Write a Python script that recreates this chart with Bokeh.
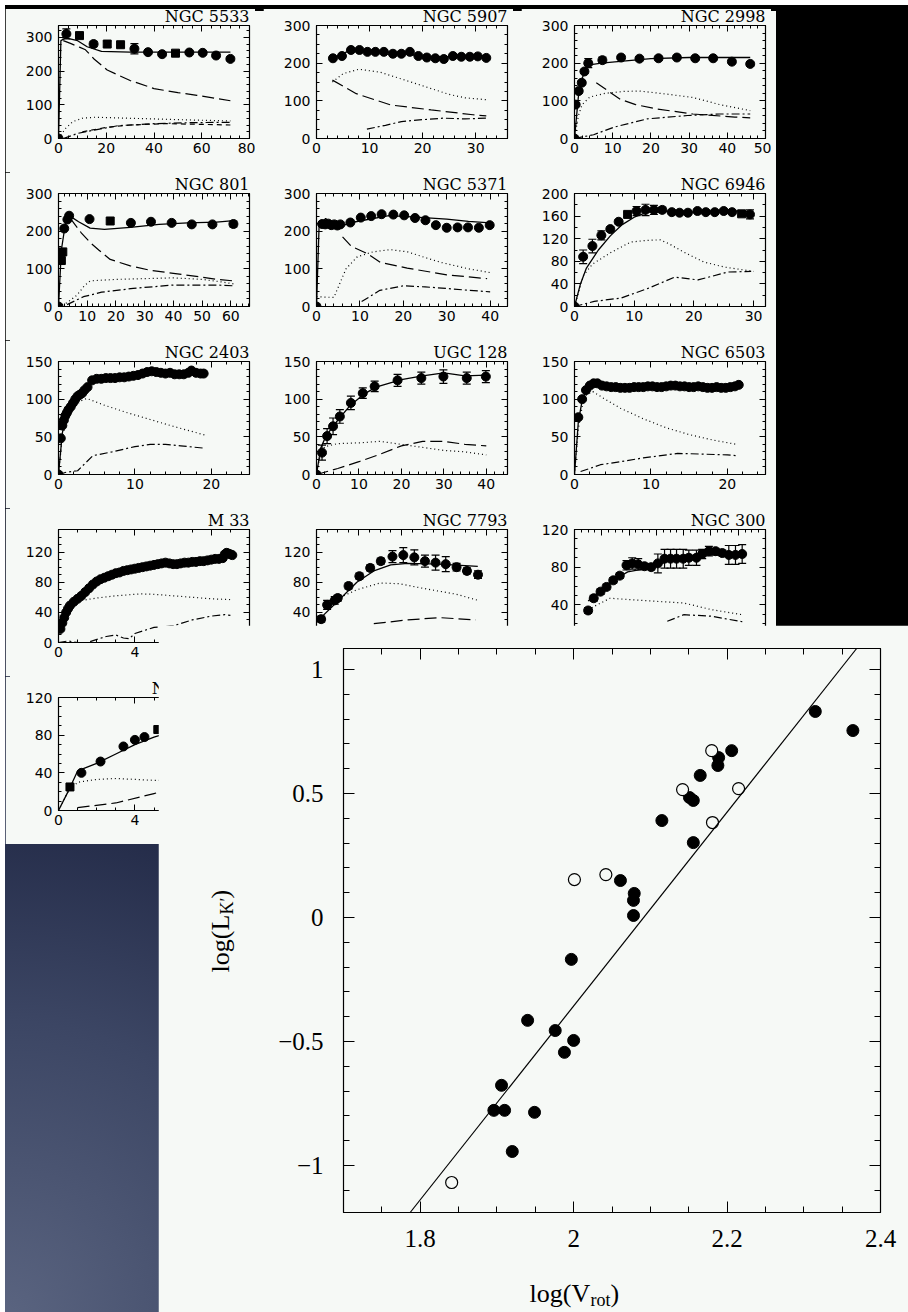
import math
from bokeh.plotting import figure
from bokeh.models import (Div, LinearAxis, SingleIntervalTicker, FixedTicker,
                          Range1d, Label, Slope)
from bokeh.embed import file_html
from bokeh.resources import INLINE

# ------------------------------------------------------------------ data
# Rotation curves: radius (kpc) and velocity (km/s); model curves as (R, V) pairs
N5533_R = [0, 3.3, 8.8, 14.7, 20.4, 26.0, 31.8, 37.5, 43.4, 49.0, 54.8, 60.4, 66.0, 72.0]
N5533_V = [0, 310, 305, 280, 280, 278, 266, 256, 250, 253, 255, 254, 246, 236]
N5533_E = [0, 15, 8, 8, 8, 8, 15, 5, 5, 5, 5, 5, 5, 5]
N5533_SQ = [2, 4, 5, 9]
N5533_TOTAL = [(0, 0), (1, 290), (3, 298), (8, 290), (12, 272), (18, 258), (30, 256), (50, 256), (72, 256)]
N5533_LDASH = [(2, 290), (5, 282), (9, 270), (11.3, 263), (15, 235), (20.4, 203), (30, 172), (40, 148), (50, 136), (58, 128), (72, 112)]
N5533_DOT = [(0, 0), (3, 30), (6, 50), (10, 60), (15, 63), (25, 61), (40, 58), (55, 55), (72, 52)]
N5533_DDOT = [(2, 0), (8, 15), (15, 25), (25, 38), (40, 44), (55, 47), (72, 48)]
N5533_DASH = [(10, 20), (20, 33), (30, 40), (45, 44), (60, 42), (72, 40)]

N5907_R = [3.1, 4.8, 6.5, 8.1, 9.6, 11.1, 12.7, 14.4, 16.0, 17.6, 19.2, 20.8, 22.4, 24.0, 25.7, 27.3, 28.9, 30.4, 32.0]
N5907_V = [213, 219, 235, 235, 230, 230, 230, 225, 225, 230, 219, 215, 213, 211, 219, 217, 217, 218, 214]
N5907_TOTAL = [(3, 212), (6, 232), (10, 232), (15, 228), (20, 218), (25, 217), (32, 216)]
N5907_DOT = [(3, 150), (5, 172), (8, 184), (12, 176), (16, 158), (20, 140), (25, 117), (28, 108), (32, 103)]
N5907_LDASH = [(3, 155), (7.5, 119), (14, 89), (21.6, 76), (29.5, 63), (32, 60)]
N5907_DDOT = [(9.5, 25), (13, 35), (16, 45), (20, 50), (24, 54), (28, 52), (32, 54)]

N2998_R = [0, 0.3, 1.1, 1.9, 2.6, 3.6, 7.3, 12.2, 17.0, 22.0, 26.8, 31.6, 36.3, 41.2, 46.0]
N2998_V = [0, 90, 126, 148, 178, 200, 208, 215, 212, 213, 215, 213, 213, 204, 198]
N2998_E = [0, 5, 5, 5, 5, 12, 8, 5, 5, 5, 5, 5, 5, 5, 5]
N2998_TOTAL = [(0, 0), (1, 110), (2, 160), (3.5, 195), (7, 200), (12, 205), (20, 212), (30, 215), (46, 215)]
N2998_DOT = [(0, 0), (1, 60), (2, 90), (4, 110), (8, 120), (13, 125), (17, 126), (24, 118), (31, 109), (38, 90), (46, 74)]
N2998_LDASH = [(5.7, 148), (9, 125), (12, 104), (16, 90), (21.8, 78), (31, 65), (42, 57), (46, 55)]
N2998_DDOT = [(0, 0), (5, 10), (10.3, 30), (19, 52), (29.6, 61), (38, 65), (46, 65)]

N801_R = [0, 1.0, 1.5, 2.0, 3.1, 3.7, 10.8, 18.0, 25.2, 32.2, 39.4, 46.4, 53.6, 60.9]
N801_V = [0, 122, 145, 207, 231, 241, 232, 227, 222, 225, 222, 218, 218, 219]
N801_E = [0, 0, 0, 0, 0, 0, 0, 0, 0, 0, 0, 0, 0, 8]
N801_SQ = [1, 2, 7]
N801_TOTAL = [(0, 0), (1, 150), (2.5, 225), (4, 240), (7, 225), (11, 208), (16, 205), (25, 210), (35, 218), (45, 222), (55, 224), (61, 228)]
N801_LDASH = [(4, 235), (6, 215), (8, 195), (11, 170), (14, 150), (18, 125), (25, 108), (32, 96), (40, 88), (48, 80), (55, 72), (61, 68)]
N801_DOT = [(0, 0), (3, 10), (6.4, 30), (9, 55), (11, 68), (20, 72), (30, 74), (40, 76), (50, 72), (57, 65), (61, 60)]
N801_DASH = [(3, 5), (8.7, 26), (15, 38), (26, 48), (40, 57), (55, 57), (61, 55)]

N5371_R = [0, 1.3, 2.0, 2.7, 3.4, 4.1, 4.8, 5.5, 7.8, 10.2, 12.6, 15.0, 17.7, 20.2, 22.7, 25.1, 27.5, 30.0, 32.5, 34.9, 37.4, 39.9]
N5371_V = [0, 219, 218, 220, 216, 218, 215, 218, 223, 236, 240, 245, 244, 242, 235, 229, 216, 209, 210, 210, 209, 216]
N5371_TOTAL = [(0, 0), (0.6, 215), (1.4, 223), (2.1, 234), (4.4, 210), (9, 225), (16.7, 241), (22, 238), (30, 232), (35, 226), (40, 222)]
N5371_DOT = [(0, 26), (4, 24), (6.8, 100), (9.4, 132), (13, 145), (17, 151), (21, 145), (25, 130), (28.7, 117), (35, 100), (40, 90)]
N5371_LDASH = [(6, 185), (8, 160), (11.6, 141), (14.7, 117), (20.9, 102), (30, 84), (39.3, 74)]
N5371_DDOT = [(10.4, 13), (14.6, 43), (20, 55), (25, 52), (30, 48), (35, 43), (40, 39)]

N6946_R = [0, 1.45, 3.0, 4.5, 6.0, 7.4, 8.9, 10.4, 11.9, 13.3, 14.7, 16.3, 17.6, 19.0, 20.6, 22.0, 23.5, 25.0, 26.4, 28.0, 29.4]
N6946_V = [0, 88, 107, 126, 137, 150, 163, 169, 171, 171, 171, 167, 166, 166, 169, 167, 167, 169, 167, 164, 163]
N6946_E = [0, 12, 12, 8, 4, 4, 4, 8, 10, 8, 5, 3, 3, 3, 3, 3, 3, 3, 3, 3, 8]
N6946_SQ = [6, 19]
N6946_TOTAL = [(0, 0), (1, 40), (2, 68), (4, 100), (6, 125), (8, 145), (10, 158), (12, 166), (14, 170), (16, 168), (20, 167), (25, 170), (29.5, 168)]
N6946_DOT = [(0, 0), (1.5, 55), (3, 75), (6, 95), (9.4, 114), (12, 117), (14.4, 118), (16, 110), (18, 98), (21.6, 79), (25, 70), (28.8, 64), (30, 62)]
N6946_DDOT = [(0, 0), (3.3, 9), (7.8, 15), (12.3, 32), (16.8, 52), (20.7, 47), (25.7, 61), (29.6, 62)]

N2403_R = [0, 0.3, 0.5, 0.7, 0.9, 1.1, 1.3, 1.6, 1.9, 2.2, 2.5, 2.8, 3.1, 3.4, 3.8, 4.4, 5.0, 5.6, 6.2, 6.8,
           7.4, 8.0, 8.6, 9.2, 9.8, 10.4, 11.0, 11.6, 12.2, 12.8, 13.4, 14.0, 14.6, 15.2, 15.8, 16.4, 17.0, 17.4, 18.0, 18.6, 19.0]
N2403_V = [0, 48, 65, 72, 78, 82, 86, 90, 95, 100, 104, 106, 108, 112, 116, 125, 127, 127, 128, 128,
           128, 129, 129, 130, 131, 132, 134, 136, 137, 136, 135, 134, 135, 133, 133, 133, 135, 138, 135, 134, 134]
N2403_TOTAL = [(0, 0), (0.5, 55), (1, 78), (2, 98), (3, 110), (4, 120), (5, 126), (8, 129), (12, 136), (16, 134), (19, 134)]
N2403_DOT = [(0, 0), (0.5, 50), (1, 70), (2, 90), (3, 98), (3.7, 101), (6, 92), (9, 82), (12, 73), (15, 64), (19.3, 52)]
N2403_DDOT = [(0, 0), (1, 3), (2.5, 5), (3.5, 15), (4.5, 25), (7, 30), (10, 37), (12, 40), (14, 40), (16, 38), (19, 35)]

U128_R = [0, 1.3, 2.5, 3.9, 5.5, 8.1, 10.9, 13.7, 19.1, 24.7, 29.9, 35.4, 39.9]
U128_V = [0, 29, 51, 64, 77, 95, 108, 117, 125, 128, 130, 128, 130]
U128_E = [0, 10, 10, 11, 9, 9, 7, 7, 8, 8, 9, 8, 8]
U128_TOTAL = [(0, 0), (1, 35), (2, 48), (3, 57), (5, 72), (8, 92), (11, 106), (14, 116), (20, 126), (25, 131), (30, 135), (35, 131), (40, 132)]
U128_DOT = [(0, 0), (1, 30), (2, 37), (5, 41), (10, 42), (15, 44), (20, 40), (25, 36), (30, 32), (35, 30), (40, 26)]
U128_LDASH = [(0, 0), (5, 8), (10, 17), (15, 27), (20, 38), (25, 44), (30, 44), (35, 40), (40, 38)]

N6503_R = [0.5, 1.0, 1.5, 2.0, 2.5, 3.0, 3.6, 4.2, 4.8, 5.4, 6.0, 6.6, 7.2, 7.8, 8.4, 9.0, 9.6, 10.2, 10.8, 11.4,
           12.0, 12.6, 13.2, 13.8, 14.4, 15.0, 15.6, 16.2, 16.8, 17.4, 18.0, 18.6, 19.2, 19.8, 20.4, 21.0, 21.5]
N6503_V = [76, 100, 112, 118, 121, 121, 118, 117, 116, 116, 115, 115, 115, 116, 116, 116, 117, 117, 116, 116,
           117, 118, 118, 117, 117, 116, 116, 117, 116, 115, 115, 116, 115, 115, 116, 117, 119]
N6503_TOTAL = [(0, 0), (0.5, 70), (1, 98), (1.5, 112), (2, 118), (3, 120), (5, 116), (10, 116), (15, 117), (21.5, 117)]
N6503_DOT = [(0, 0), (0.5, 60), (1, 90), (1.5, 105), (2.4, 110), (4, 100), (6, 88), (9, 74), (12, 62), (15, 53), (18, 46), (21.2, 40)]
N6503_DDOT = [(0.8, 4), (2, 8), (3.4, 13), (6, 17), (9, 22), (13.5, 28), (17, 27), (20, 26), (21.2, 25)]

M33_R = [0.1, 0.2, 0.3, 0.4, 0.5, 0.6, 0.8, 1.0, 1.2, 1.4, 1.6, 1.8, 2.0, 2.2, 2.4, 2.6, 2.8, 3.0, 3.2, 3.4,
         3.6, 3.8, 4.0, 4.2, 4.4, 4.6, 4.8, 5.0, 5.2, 5.4, 5.6, 5.8, 6.0, 6.2, 6.4, 6.6, 6.8, 7.0, 7.2, 7.4,
         7.6, 7.8, 8.0, 8.2, 8.4, 8.6, 8.7, 8.8, 8.9, 9.0, 9.1]
M33_V = [18, 26, 33, 40, 45, 49, 54, 58, 62, 67, 72, 77, 81, 84, 86, 88, 90, 92, 93, 95,
         96, 97, 98, 99, 100, 101, 102, 103, 104, 105, 106, 105, 104, 104, 105, 106, 106, 107, 107, 108,
         108, 109, 110, 111, 111, 112, 117, 119, 118, 117, 116]
M33_TOTAL = [(0, 18), (1, 55), (2, 76), (3, 90), (4, 96), (5, 101), (6, 104), (7, 107), (8, 110), (8.7, 117), (9.1, 117)]
M33_DOT = [(0, 36), (0.5, 45), (1, 55), (2, 59), (3, 62), (4.3, 64.5), (5, 64), (6, 62), (7, 60), (8, 58), (9, 57)]
M33_DDOT = [(0, 0), (0.5, 2), (1, 0), (1.5, 0), (2.5, 8), (3, 10), (3.4, 6), (3.7, 5), (4, 12), (5, 20), (6, 22), (7, 30), (8, 35), (8.7, 37), (9, 36)]

N7793_R = [0.22, 0.5, 0.86, 1.0, 1.51, 2.02, 2.53, 3.03, 3.58, 4.09, 4.61, 5.11, 5.61, 6.09, 6.6, 7.09, 7.61]
N7793_V = [31, 50, 56, 59, 75, 88, 99, 108, 114, 116, 113, 108, 106, 104, 100, 95, 90]
N7793_E = [4, 6, 5, 4, 4, 4, 4, 4, 8, 10, 10, 8, 10, 10, 5, 4, 5]
N7793_TOTAL = [(0.03, 28), (1.12, 58), (1.9, 80), (2.7, 95), (3.5, 103), (4.3, 105), (5.8, 104), (7.6, 101)]
N7793_DOT = [(0.34, 45), (1.12, 60), (1.9, 70), (3.0, 79), (3.9, 78), (5.0, 72), (6.6, 64), (7.6, 56)]
N7793_LDASH = [(2.7, 25), (4.3, 30), (5.8, 33), (7.5, 30)]

N300_R = [1.0, 1.41, 1.91, 2.35, 2.84, 3.32, 3.81, 4.23, 4.67, 5.13, 5.62, 6.11, 6.6, 7.04, 7.48, 7.97, 8.38,
          8.94, 9.36, 9.85, 10.34, 10.83, 11.31, 11.8, 12.29]
N300_V = [34, 47, 54, 59, 66, 71, 82, 84, 83, 81, 80, 84, 89, 89, 89, 89, 90, 90, 94, 97, 97, 95, 93, 93, 94]
N300_E = [3, 3, 3, 3, 3, 3, 5, 6, 6, 3, 3, 10, 10, 10, 10, 10, 8, 8, 5, 5, 3, 3, 10, 10, 10]
N300_TOTAL = [(1, 44), (2.6, 64), (3.9, 75), (5.4, 79), (7.0, 87), (9.2, 94), (12.3, 91)]
N300_DOT = [(1, 35), (2.6, 47), (6.3, 43.4), (8.0, 42), (10, 35), (12.3, 29.5)]
N300_DDOT = [(6.8, 22.5), (8.0, 29.5), (10, 28), (12.3, 22)]

N3198_R = [0.6, 1.2, 2.2, 3.4, 4.0, 4.5, 5.2]
N3198_V = [25, 40, 52, 68, 75, 78, 86]
N3198_SQ = [0, 6]
N3198_TOTAL = [(0, 0), (0.5, 20), (1, 42), (2, 50), (3, 60), (4, 70), (5, 78), (6, 84), (7, 85)]
N3198_DOT = [(0, 0), (0.5, 20), (1, 30), (2, 33), (3, 34), (4, 33), (5, 32), (6, 32), (7, 28)]
N3198_LDASH = [(1, 3), (3, 8), (5, 18), (7, 28)]

# Tully-Fisher relation: log(V_rot), log(L_K')
TF_FILLED_X = [2.315, 2.364, 2.206, 2.189, 2.188, 2.165, 2.151, 2.156, 2.115, 2.156, 2.061, 2.079,
               2.078, 2.078, 1.997, 1.940, 1.976, 2.000, 1.988, 1.906, 1.896, 1.910, 1.949, 1.920]
TF_FILLED_Y = [0.831, 0.754, 0.673, 0.645, 0.613, 0.573, 0.484, 0.472, 0.391, 0.302, 0.149, 0.097,
               0.069, 0.008, -0.169, -0.415, -0.456, -0.496, -0.544, -0.677, -0.778, -0.778, -0.786, -0.944]
TF_OPEN_X = [2.180, 2.142, 2.215, 2.181, 2.001, 2.042, 1.841]
TF_OPEN_Y = [0.673, 0.516, 0.520, 0.383, 0.153, 0.173, -1.069]
TF_SLOPE = 3.909
TF_INTERCEPT = -8.175
TF_XTICKS = [1.8, 2.0, 2.2, 2.4]
TF_XLABELS = ["1.8", "2", "2.2", "2.4"]
TF_YTICKS = [-1.0, -0.5, 0.0, 0.5, 1.0]
TF_YLABELS = ["\u22121", "\u22120.5", "0", "0.5", "1"]

# ------------------------------------------------------------------ style
PANEL_BG = "#f6f9f6"
BG_GRADIENT = ("radial-gradient(ellipse 110% 75% at 0% 100%, #5a6480 0%, #3c4664 30%, "
               "#1c2340 58%, #060a1c 80%, #000000 100%)")
DASHES = {"solid": "solid", "dot": "1 3", "ldash": "12 5", "ddot": "8 3 2 3", "dash": "5 4"}
COL_X = [58, 316, 574]
ROW_Y = [25, 193, 361, 529, 697]
FW, FH = 191, 113
ML, MT, MB = 53, 21, 34


def pos(left, top, z=1):
    return {"position": "absolute", "left": f"{left}px", "top": f"{top}px", "z-index": str(z)}


def style_axis(ax, show, font, size, tin, tmin, standoff):
    ax.axis_line_color = None
    ax.major_tick_in = tin
    ax.major_tick_out = 0
    ax.minor_tick_in = tmin
    ax.minor_tick_out = 0
    ax.major_tick_line_color = "black"
    ax.minor_tick_line_color = "black"
    ax.major_tick_line_width = 1
    ax.minor_tick_line_width = 1
    ax.major_label_text_font = font
    ax.major_label_text_font_size = size
    if show:
        ax.major_label_text_color = "black"
        ax.major_label_standoff = standoff
    else:
        ax.major_label_text_color = None
        ax.major_label_text_font_size = "2px"
        ax.major_label_standoff = 0


def text_holder(left, top, w, h, z):
    t = figure(width=w, height=h, x_range=Range1d(0, w), y_range=Range1d(0, h), min_border=0,
               x_axis_location=None, y_axis_location=None, toolbar_location=None, output_backend="svg",
               outline_line_color=None, background_fill_color=None, border_fill_color=None,
               styles=pos(left, top, z))
    t.grid.grid_line_color = None
    return t


PANELS = [
    dict(name="NGC 5533", col=0, row=0, xr=(0, 80), yr=(0, 335), xt=(20, 5), yt=(100, 5),
         R=N5533_R, V=N5533_V, E=N5533_E, SQ=N5533_SQ,
         curves=[(N5533_TOTAL, "solid"), (N5533_LDASH, "ldash"), (N5533_DOT, "dot"), (N5533_DDOT, "ddot"), (N5533_DASH, "dash")]),
    dict(name="NGC 5907", col=1, row=0, xr=(0, 36), yr=(0, 300), xt=(10, 5), yt=(100, 4),
         R=N5907_R, V=N5907_V, E=None, SQ=[],
         curves=[(N5907_TOTAL, "solid"), (N5907_DOT, "dot"), (N5907_LDASH, "ldash"), (N5907_DDOT, "ddot")]),
    dict(name="NGC 2998", col=2, row=0, xr=(0, 50), yr=(0, 300), xt=(10, 5), yt=(100, 5),
         R=N2998_R, V=N2998_V, E=N2998_E, SQ=[],
         curves=[(N2998_TOTAL, "solid"), (N2998_DOT, "dot"), (N2998_LDASH, "ldash"), (N2998_DDOT, "ddot")]),
    dict(name="NGC 801", col=0, row=1, xr=(0, 66.5), yr=(0, 300), xt=(10, 5), yt=(100, 5),
         R=N801_R, V=N801_V, E=N801_E, SQ=N801_SQ,
         curves=[(N801_TOTAL, "solid"), (N801_LDASH, "ldash"), (N801_DOT, "dot"), (N801_DASH, "ddot")]),
    dict(name="NGC 5371", col=1, row=1, xr=(0, 44), yr=(0, 300), xt=(10, 5), yt=(100, 5),
         R=N5371_R, V=N5371_V, E=None, SQ=[],
         curves=[(N5371_TOTAL, "solid"), (N5371_DOT, "dot"), (N5371_LDASH, "ldash"), (N5371_DDOT, "ddot")]),
    dict(name="NGC 6946", col=2, row=1, xr=(0, 32), yr=(0, 200), xt=(10, 5), yt=(40, 2),
         R=N6946_R, V=N6946_V, E=N6946_E, SQ=N6946_SQ,
         curves=[(N6946_TOTAL, "solid"), (N6946_DOT, "dot"), (N6946_DDOT, "ddot")]),
    dict(name="NGC 2403", col=0, row=2, xr=(0, 25), yr=(0, 150), xt=(10, 5), yt=(50, 5),
         R=N2403_R, V=N2403_V, E=None, SQ=[],
         curves=[(N2403_TOTAL, "solid"), (N2403_DOT, "dot"), (N2403_DDOT, "ddot")]),
    dict(name="UGC 128", col=1, row=2, xr=(0, 45), yr=(0, 150), xt=(10, 5), yt=(50, 5),
         R=U128_R, V=U128_V, E=U128_E, SQ=[],
         curves=[(U128_TOTAL, "solid"), (U128_DOT, "dot"), (U128_LDASH, "ldash")]),
    dict(name="NGC 6503", col=2, row=2, xr=(0, 25), yr=(0, 150), xt=(10, 5), yt=(50, 5),
         R=N6503_R, V=N6503_V, E=None, SQ=[],
         curves=[(N6503_TOTAL, "solid"), (N6503_DOT, "dot"), (N6503_DDOT, "ddot")]),
    dict(name="M 33", col=0, row=3, xr=(0, 10), yr=(0, 150), xt=(4, 4), yt=(40, 4),
         R=M33_R, V=M33_V, E=None, SQ=[],
         curves=[(M33_TOTAL, "solid"), (M33_DOT, "dot"), (M33_DDOT, "ddot")]),
    dict(name="NGC 7793", col=1, row=3, xr=(0, 9), yr=(0, 150), xt=(2, 4), yt=(40, 4),
         R=N7793_R, V=N7793_V, E=N7793_E, SQ=[],
         curves=[(N7793_TOTAL, "solid"), (N7793_DOT, "dot"), (N7793_LDASH, "ldash")]),
    dict(name="NGC 300", col=2, row=3, xr=(0, 14), yr=(0, 120), xt=(2, 4), yt=(40, 4),
         R=N300_R, V=N300_V, E=N300_E, SQ=[],
         curves=[(N300_TOTAL, "solid"), (N300_DOT, "dot"), (N300_DDOT, "ddot")]),
    dict(name="NGC 3198", col=0, row=4, xr=(0, 10), yr=(0, 120), xt=(4, 4), yt=(40, 4),
         R=N3198_R, V=N3198_V, E=None, SQ=N3198_SQ, title_shift=13,
         curves=[(N3198_TOTAL, "solid"), (N3198_DOT, "dot"), (N3198_LDASH, "ldash")]),
]


def rc_panel(s):
    fl, ft = COL_X[s["col"]], ROW_Y[s["row"]]
    p = figure(frame_width=FW, frame_height=FH, x_range=Range1d(*s["xr"]), y_range=Range1d(*s["yr"]),
               title=s["name"],
               x_axis_location=None, y_axis_location=None, toolbar_location=None, output_backend="svg",
               min_border_left=ML, min_border_right=6, min_border_top=MT, min_border_bottom=MB,
               background_fill_color=PANEL_BG, border_fill_color=PANEL_BG,
               outline_line_color="black", outline_line_width=1.2, styles=pos(fl - ML, ft - MT, 2))
    p.title.align = "right"
    p.title.text_font = "DejaVu Serif"
    p.title.text_font_size = "16px"
    p.title.text_font_style = "normal"
    p.title.text_color = "black"
    p.title.standoff = 0
    p.title.offset = s.get("title_shift", 0)
    p.grid.grid_line_color = None
    for loc, show in (("below", True), ("above", False)):
        ax = LinearAxis(ticker=SingleIntervalTicker(interval=s["xt"][0], num_minor_ticks=s["xt"][1]))
        style_axis(ax, show, "DejaVu Sans", "14px", 6, 3, 4)
        p.add_layout(ax, loc)
    for loc, show in (("left", True), ("right", False)):
        ax = LinearAxis(ticker=SingleIntervalTicker(interval=s["yt"][0], num_minor_ticks=s["yt"][1]))
        style_axis(ax, show, "DejaVu Sans", "14px", 6, 3, 6)
        p.add_layout(ax, loc)

    for pts, kind in s["curves"]:
        xs = [a for a, b in pts]
        ys = [b for a, b in pts]
        p.line(xs, ys, line_color="black", line_width=1.3 if kind == "solid" else 1.2,
               line_dash=DASHES[kind])

    R, V, E = s["R"], s["V"], s["E"]
    if E is not None:
        ex = [r for r, e in zip(R, E) if e > 0]
        lo = [v - e for v, e in zip(V, E) if e > 0]
        hi = [v + e for v, e in zip(V, E) if e > 0]
        p.segment(x0=ex, y0=lo, x1=ex, y1=hi, line_color="black", line_width=1.2)
        p.scatter(ex, lo, marker="dash", size=8, line_color="black", line_width=1.2)
        p.scatter(ex, hi, marker="dash", size=8, line_color="black", line_width=1.2)
    circ = [i for i in range(len(R)) if i not in s["SQ"]]
    p.scatter([R[i] for i in circ], [V[i] for i in circ], marker="circle", size=9,
              fill_color="black", line_color="black")
    if s["SQ"]:
        p.scatter([R[i] for i in s["SQ"]], [V[i] for i in s["SQ"]], marker="square", size=8,
                  fill_color="black", line_color="black")
    return p


roots = [Div(text="", width=908, height=1312, styles={**pos(0, 0, 0), "background": BG_GRADIENT}),
         Div(text="", width=766, height=833, styles={**pos(5, 6, 1), "background": PANEL_BG})]
for s in PANELS:
    roots.append(rc_panel(s))
# thin dark band along the top edge of the slide
roots.append(Div(text="", width=908, height=4, styles={**pos(0, 0, 3), "background": "#000000"}))

# ------------------------------------------------------------------ Tully-Fisher panel
TF_L, TF_T, TF_FW, TF_FH = 185, 23, 537, 564
tf = figure(frame_width=TF_FW, frame_height=TF_FH, x_range=Range1d(1.7, 2.4), y_range=Range1d(-1.19, 1.085),
            x_axis_location=None, y_axis_location=None, toolbar_location=None, output_backend="svg",
            min_border_left=TF_L, min_border_right=28, min_border_top=TF_T, min_border_bottom=100,
            background_fill_color=PANEL_BG, border_fill_color=PANEL_BG,
            outline_line_color="black", outline_line_width=1.2, styles=pos(158, 625, 5))
tf.grid.grid_line_color = None
xminor = [round(1.7 + 0.05 * i, 3) for i in range(15)]
yminor = [round(-1.1 + 0.1 * i, 3) for i in range(22)]
for loc, show in (("below", True), ("above", False)):
    ax = LinearAxis(ticker=FixedTicker(ticks=TF_XTICKS, minor_ticks=xminor))
    style_axis(ax, show, "Liberation Serif", "25px", 11, 6, 17)
    if show:
        ax.major_label_overrides = dict(zip(TF_XTICKS, TF_XLABELS))
    tf.add_layout(ax, loc)
for loc, show in (("left", True), ("right", False)):
    ax = LinearAxis(ticker=FixedTicker(ticks=TF_YTICKS, minor_ticks=yminor))
    style_axis(ax, show, "Liberation Serif", "25px", 11, 6, 20)
    if show:
        ax.major_label_overrides = dict(zip(TF_YTICKS, TF_YLABELS))
    tf.add_layout(ax, loc)

tf.add_layout(Slope(gradient=TF_SLOPE, y_intercept=TF_INTERCEPT, line_color="black", line_width=1.2))
tf.scatter(TF_FILLED_X, TF_FILLED_Y, marker="circle", size=12, fill_color="black", line_color="black")
tf.scatter(TF_OPEN_X, TF_OPEN_Y, marker="circle", size=12, fill_color=PANEL_BG, line_color="black",
           line_width=1.2)
roots.append(tf)

# axis titles log(V_rot) and log(L_K'), drawn in transparent text holders
xl = text_holder(500, 1260, 150, 52, 6)
xl.add_layout(Label(x=29, y=19, text="log(V", text_font="Liberation Serif", text_font_size="26px",
                    text_align="left", text_baseline="alphabetic", text_color="black"))
xl.add_layout(Label(x=90, y=13, text="rot", text_font="Liberation Serif", text_font_size="18px",
                    text_align="left", text_baseline="alphabetic", text_color="black"))
xl.add_layout(Label(x=110, y=19, text=")", text_font="Liberation Serif", text_font_size="26px",
                    text_align="left", text_baseline="alphabetic", text_color="black"))
roots.append(xl)

yl = text_holder(186, 872, 52, 116, 6)
yl.add_layout(Label(x=34, y=16, angle=math.pi / 2, text="log(L", text_font="Liberation Serif",
                    text_font_size="26px", text_align="left", text_baseline="alphabetic", text_color="black"))
yl.add_layout(Label(x=40, y=74, angle=math.pi / 2, text="K\u2032", text_font="Liberation Serif",
                    text_font_size="18px", text_align="left", text_baseline="alphabetic", text_color="black"))
yl.add_layout(Label(x=34, y=90, angle=math.pi / 2, text=")", text_font="Liberation Serif",
                    text_font_size="26px", text_align="left", text_baseline="alphabetic", text_color="black"))
roots.append(yl)

open("out.html", "w").write(file_html(roots, INLINE, title="Rotation curves and Tully-Fisher relation"))
